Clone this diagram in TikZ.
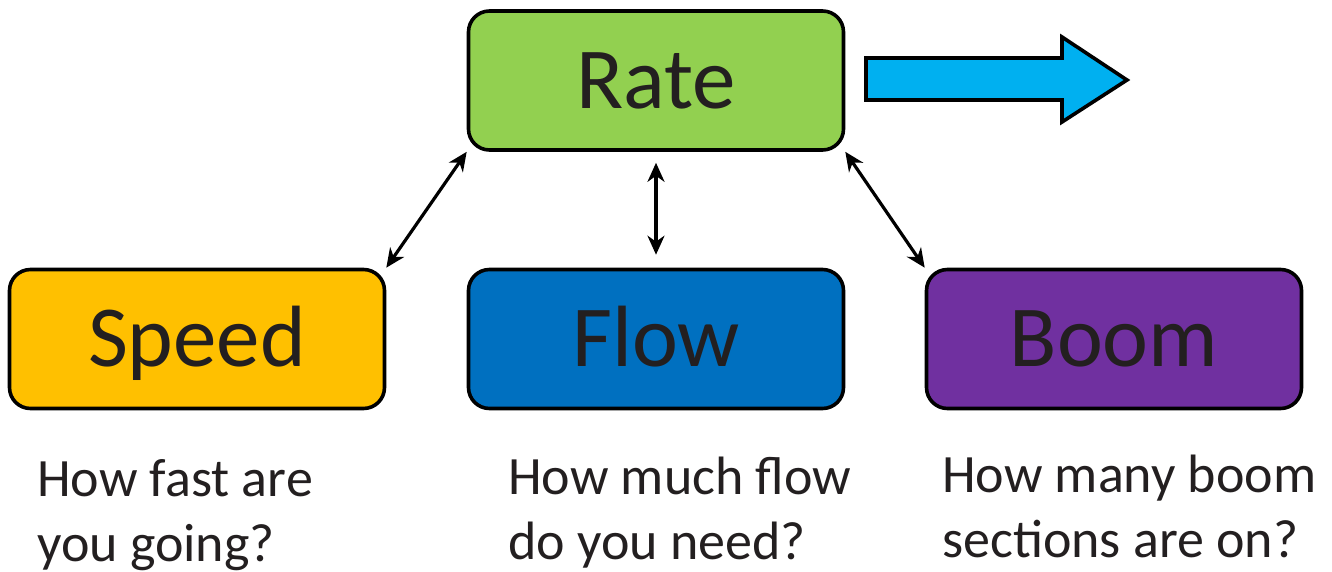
\documentclass[tikz,border=0pt]{standalone}
\usepackage{fontspec}
\setmainfont{Carlito}
\usetikzlibrary{arrows.meta}
\definecolor{txt}{HTML}{231F20}
\definecolor{rategreen}{HTML}{92D050}
\definecolor{speedyellow}{HTML}{FFC000}
\definecolor{flowblue}{HTML}{0070C0}
\definecolor{boompurple}{HTML}{7030A0}
\definecolor{arrowcyan}{HTML}{00B0F0}
\tikzset{
  box/.style={draw=black, line width=3.6pt, rounded corners=21pt, minimum width=375pt, minimum height=139pt,
    inner sep=0pt, font=\fontsize{87}{100}\selectfont, text=txt, text height=55pt, text depth=0pt},
  question/.style={anchor=base west, align=left, inner sep=0pt, font=\fontsize{54}{65}\selectfont, text=txt},
  link/.style={line width=3.2pt, {Stealth[length=19pt,width=17pt,inset=6pt]}-{Stealth[length=19pt,width=17pt,inset=6pt]}},
  bigarrow/.style={draw=black, line width=3.6pt, fill=arrowcyan, line join=miter}
}
\begin{document}
\begin{tikzpicture}[x=1pt,y=-1pt]
\useasboundingbox (0,0) rectangle (1332,571);
\node[box, fill=rategreen] (rate) at (656,80.5) {Rate};
\node[box, fill=speedyellow] (speed) at (197,339) {Speed};
\node[box, fill=flowblue] (flow) at (656,339) {Flow};
\node[box, fill=boompurple] (boom) at (1114,339) {Boom};
\draw[bigarrow] (866,58) -- (1062,58) -- (1062,37) -- (1127,80) -- (1062,122) -- (1062,100) -- (866,100) -- cycle;
\draw[link] (speed.north east) -- (rate.south west);
\draw[link] (boom.north west) -- (rate.south east);
\draw[link, shorten <=11pt, shorten >=13pt] (rate.south) -- (flow.north);
\node[question] (q1) at (37,561) {How fast are\\you going?};
\node[question] (q2) at (508,559) {How much flow\\do you need?};
\node[question] (q3) at (942,557) {How many boom\\sections are on?};
\end{tikzpicture}
\end{document}
